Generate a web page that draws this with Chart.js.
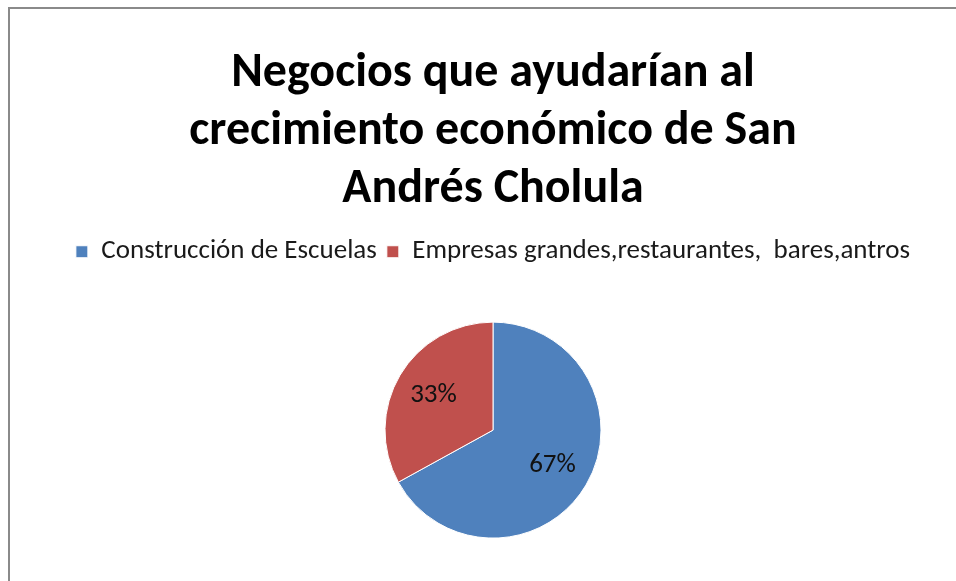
<!DOCTYPE html>
<html>
<head>
<meta charset="utf-8">
<script src="https://cdn.jsdelivr.net/npm/chart.js@4.4.1/dist/chart.umd.min.js"></script>
<style>
  html, body { margin: 0; padding: 0; background: #fff; overflow: hidden; }
  #frame {
    position: absolute; left: 8px; top: 7px; width: 1000px; height: 600px;
    border-left: 2px solid #8a8a8a; border-top: 2px solid #8a8a8a;
  }
  #wrap { position: absolute; left: 10px; top: 9px; width: 966px; height: 576px; }
</style>
</head>
<body>
<div id="frame"></div>
<div id="wrap"><canvas id="pie"></canvas></div>
<script>
const titleLines = ['Negocios que ayudarían al', 'crecimiento económico de San', 'Andrés Cholula'];
const categories = ['Construcción de Escuelas', 'Empresas grandes,restaurantes,  bares,antros'];
const shares = [67, 33];
const sliceColors = ['#4f81bd', '#c0504d'];

const fontFam = 'Carlito, "Open Sans", sans-serif';

// percent labels drawn inside each slice
const pctLabels = {
  id: 'pctLabels',
  afterDatasetsDraw(chart) {
    const { ctx } = chart;
    const meta = chart.getDatasetMeta(0);
    const total = shares.reduce((a, b) => a + b, 0);
    ctx.save();
    ctx.font = '27px ' + fontFam;
    ctx.fillStyle = '#111';
    ctx.textAlign = 'center';
    ctx.textBaseline = 'middle';
    meta.data.forEach((arc, i) => {
      const p = arc.getProps(['x', 'y', 'startAngle', 'endAngle', 'outerRadius'], true);
      const mid = (p.startAngle + p.endAngle) / 2;
      const r = p.outerRadius * 0.64;
      ctx.fillText(Math.round(shares[i] / total * 100) + '%', p.x + Math.cos(mid) * r, p.y + Math.sin(mid) * r);
    });
    ctx.restore();
  }
};

new Chart(document.getElementById('pie'), {
  type: 'pie',
  data: {
    labels: categories,
    datasets: [{
      data: shares,
      backgroundColor: sliceColors,
      borderColor: '#ffffff',
      borderWidth: 1,
      radius: 108
    }]
  },
  options: {
    responsive: true,
    maintainAspectRatio: false,
    animation: false,
    plugins: {
      title: {
        display: true,
        text: titleLines,
        color: '#000',
        font: { family: fontFam, size: 48, weight: 'bold', lineHeight: 1.21 },
        padding: { top: 36, bottom: 9 }
      },
      legend: {
        position: 'top',
        labels: {
          color: '#1a1a1a',
          boxWidth: 12, boxHeight: 12, padding: 10,
          font: { family: fontFam, size: 27 }
        }
      },
      tooltip: { enabled: false }
    }
  },
  plugins: [pctLabels]
});
</script>
</body>
</html>
